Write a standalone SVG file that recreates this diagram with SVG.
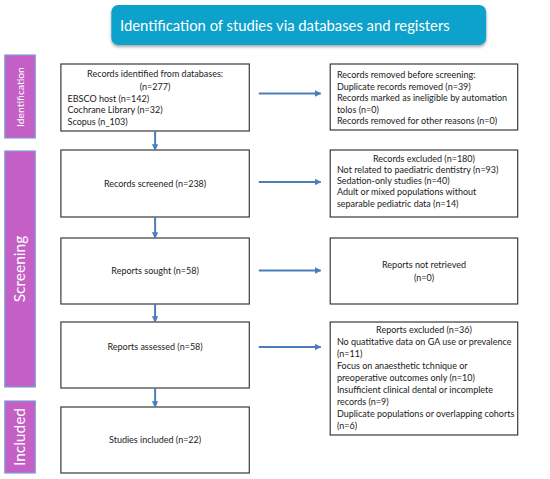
<svg xmlns="http://www.w3.org/2000/svg" width="550" height="479" viewBox="0 0 550 479">
<defs>
<style>
.box{fill:#fff;stroke:#3a3a3a;stroke-width:1.2}
.side{fill:#c45fc6;stroke:#7aa0d4;stroke-width:1.2}
.t{font-family:Lato,"Liberation Sans",sans-serif;font-size:9px;fill:#1a1a1a}
.c{text-anchor:middle}
.st{font-family:Lato,"Liberation Sans",sans-serif;fill:#fff;text-anchor:middle}
.arr{stroke:#4a7ebb;stroke-width:2;fill:none;marker-end:url(#ah)}
</style>
<marker id="ah" viewBox="0 0 10 10" refX="9" refY="5" markerWidth="3.2" markerHeight="3.2" orient="auto" markerUnits="strokeWidth">
<path d="M0,0 L10,5 L0,10 z" fill="#4a7ebb"/>
</marker>
<filter id="sh" x="-10%" y="-20%" width="120%" height="160%">
<feGaussianBlur in="SourceAlpha" stdDeviation="1.5"/>
<feOffset dx="0" dy="2" result="b"/>
<feComponentTransfer><feFuncA type="linear" slope="0.35"/></feComponentTransfer>
<feMerge><feMergeNode/><feMergeNode in="SourceGraphic"/></feMerge>
</filter>
</defs>

<g id="header">
<rect x="111.3" y="5" width="374.9" height="40" rx="7" fill="#0da2cb" filter="url(#sh)"/>
<text x="120" y="30.5" font-family="Lato,'Liberation Sans',sans-serif" font-size="14.8" fill="#fff">Identification of studies via databases and registers</text>
</g>

<g id="side-identification">
<rect class="side" x="4.8" y="55" width="30.5" height="83"/>
<text class="st" font-size="10.3" transform="translate(23.6,97) rotate(-90)">Identification</text>
</g>
<g id="side-screening">
<rect class="side" x="4.8" y="151" width="30.5" height="236"/>
<text class="st" font-size="15.5" transform="translate(25.4,269) rotate(-90)">Screening</text>
</g>
<g id="side-included">
<rect class="side" x="4.8" y="401" width="30.5" height="72"/>
<text class="st" font-size="15.5" transform="translate(25.4,437) rotate(-90)">Included</text>
</g>

<g id="n-identified">
<rect class="box" x="60.9" y="64" width="188.4" height="67"/>
<text class="t c" x="155.1" y="77">Records identified from databases:</text>
<text class="t c" x="155.1" y="89.5">(n=277)</text>
<text class="t" x="67.6" y="101.5">EBSCO host (n=142)</text>
<text class="t" x="67.6" y="113">Cochrane Library (n=32)</text>
<text class="t" x="67.6" y="125">Scopus (n_103)</text>
</g>

<g id="n-removed">
<rect class="box" x="330.2" y="64" width="187.5" height="66"/>
<text class="t" x="336.9" y="78">Records removed before screening:</text>
<text class="t" x="336.9" y="89.6">Duplicate records removed (n=39)</text>
<text class="t" x="336.9" y="101.2">Records marked as ineligible by automation</text>
<text class="t" x="336.9" y="112.8">tolos (n=0)</text>
<text class="t" x="336.9" y="124.4">Records removed for other reasons (n=0)</text>
</g>

<g id="n-screened">
<rect class="box" x="60.9" y="150" width="188.4" height="67"/>
<text class="t c" x="155.1" y="186.7">Records screened (n=238)</text>
</g>

<g id="n-excluded">
<rect class="box" x="330.2" y="150" width="187.5" height="67"/>
<text class="t c" x="424" y="161.5">Records excluded (n=180)</text>
<text class="t" x="336.9" y="172.8">Not related to paediatric dentistry (n=93)</text>
<text class="t" x="336.9" y="184.1">Sedation-only studies (n=40)</text>
<text class="t" x="336.9" y="195.4">Adult or mixed populations without</text>
<text class="t" x="336.9" y="206.7">separable pediatric data (n=14)</text>
</g>

<g id="n-sought">
<rect class="box" x="60.9" y="238" width="188.4" height="66"/>
<text class="t c" x="155.1" y="274.2">Reports sought (n=58)</text>
</g>

<g id="n-notretrieved">
<rect class="box" x="330.2" y="238" width="187.5" height="66"/>
<text class="t c" x="424" y="268">Reports not retrieved</text>
<text class="t c" x="424" y="281.4">(n=0)</text>
</g>

<g id="n-assessed">
<rect class="box" x="60.9" y="322" width="188.4" height="66"/>
<text class="t c" x="155.1" y="350.2">Reports assessed (n=58)</text>
</g>

<g id="n-reportsexcluded">
<rect class="box" x="330.2" y="322" width="187.5" height="113"/>
<text class="t c" x="424" y="332.5">Reports excluded (n=36)</text>
<text class="t" x="336.9" y="344.6">No quatitative data on GA use or prevalence</text>
<text class="t" x="336.9" y="356.7">(n=11)</text>
<text class="t" x="336.9" y="368.8">Focus on anaesthetic tchnique or</text>
<text class="t" x="336.9" y="380.9">preoperative outcomes only (n=10)</text>
<text class="t" x="336.9" y="393">Insufficient clinical dental or incomplete</text>
<text class="t" x="336.9" y="405.1">records (n=9)</text>
<text class="t" x="336.9" y="417.2">Duplicate populations or overlapping cohorts</text>
<text class="t" x="336.9" y="429.3">(n=6)</text>
</g>

<g id="n-included">
<rect class="box" x="60.9" y="407" width="188.4" height="66"/>
<text class="t c" x="155.1" y="443">Studies included (n=22)</text>
</g>

<g id="connectors">
<line class="arr" x1="258.8" y1="93.5" x2="320.7" y2="93.5"/>
<line class="arr" x1="258.8" y1="182" x2="320.7" y2="182"/>
<line class="arr" x1="258.8" y1="270.5" x2="320.7" y2="270.5"/>
<line class="arr" x1="258.8" y1="347" x2="320.7" y2="347"/>
<line class="arr" x1="155.1" y1="131" x2="155.1" y2="150"/>
<line class="arr" x1="155.1" y1="217" x2="155.1" y2="238"/>
<line class="arr" x1="155.1" y1="304" x2="155.1" y2="322"/>
<line class="arr" x1="155.1" y1="388" x2="155.1" y2="407"/>
</g>
</svg>
